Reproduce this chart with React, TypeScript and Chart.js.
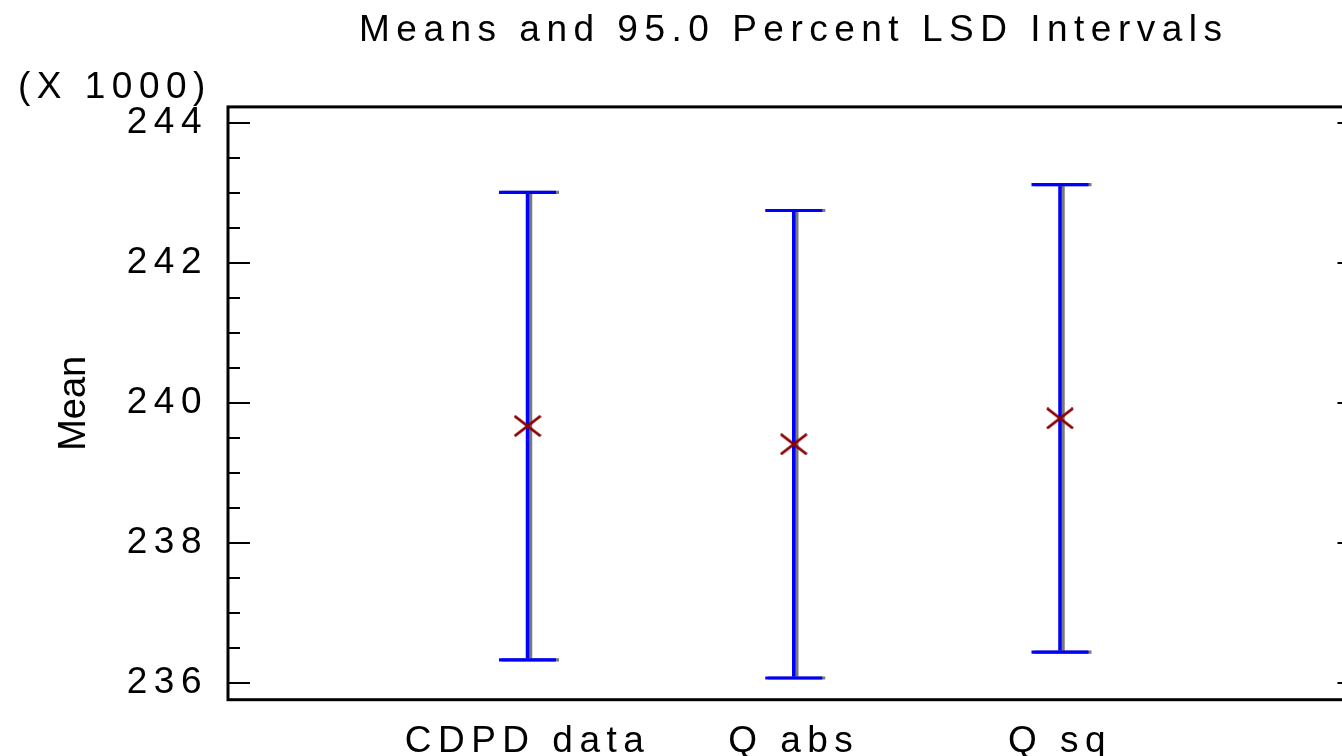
import React, { useEffect, useRef } from 'react';
import { Chart, registerables } from 'chart.js';

Chart.register(...registerables);

// Groups on the horizontal axis
const CATEGORIES = ['CDPD data', 'Q abs', 'Q sq'];
// Group means and their 95% LSD interval limits (raw units)
const MEANS = [239670, 239410, 239780];
const LOWER = [236330, 236070, 236440];
const UPPER = [243010, 242750, 243120];

// Vertical axis: labelled every 2000, minor marks every 500
const Y_MIN = 235760;
const Y_MAX = 244230;
const Y_STEP = 500;
const Y_LABEL_STEP = 2000;
const Y_SCALE_FACTOR = 1000;

// Horizontal extent around the three group positions
const X_MIN = -1.125;
const X_MAX = 3.125;

const TITLE = 'Means and 95.0 Percent LSD Intervals';
const Y_TITLE = 'Mean';
const Y_FACTOR_LABEL = '(X 1000)';

const FONT_FAMILY = '"Liberation Sans", Arial, Helvetica, sans-serif';
const FONT_SIZE = 37;
const SPACING = '6.5px';
const BLUE = '#0000ff';
const DARK_RED = '#8b0000';

function makeCrossMarker(): HTMLCanvasElement {
  const c = document.createElement('canvas');
  c.width = 28;
  c.height = 22;
  const g = c.getContext('2d')!;
  g.strokeStyle = DARK_RED;
  g.lineWidth = 2.8;
  g.beginPath();
  g.moveTo(1, 1);
  g.lineTo(27, 21);
  g.moveTo(1, 21);
  g.lineTo(27, 1);
  g.stroke();
  return c;
}

// Gives the interval lines a grey drop shadow to the right
const shadowPlugin = {
  id: 'intervalShadow',
  beforeDatasetDraw(chart: any, args: any) {
    const ds = chart.data.datasets[args.index];
    if (ds && ds.shadowed) {
      const ctx = chart.ctx;
      ctx.save();
      ctx.shadowColor = '#7a7a7a';
      ctx.shadowOffsetX = 3;
      ctx.shadowOffsetY = 0;
      ctx.shadowBlur = 0;
    }
  },
  afterDatasetDraw(chart: any, args: any) {
    const ds = chart.data.datasets[args.index];
    if (ds && ds.shadowed) chart.ctx.restore();
  },
};

// Letter spacing for library-drawn text, plus frame, inward ticks and extra labels
const framePlugin = {
  id: 'frameAndLabels',
  beforeDraw(chart: any) {
    (chart.ctx as any).letterSpacing = SPACING;
  },
  afterDraw(chart: any) {
    const ctx = chart.ctx;
    const { left, right, top, bottom } = chart.chartArea;
    const yScale = chart.scales.y;

    ctx.save();
    ctx.strokeStyle = '#000';
    ctx.lineWidth = 3;
    ctx.strokeRect(left, top, right - left, bottom - top);

    ctx.lineWidth = 2;
    ctx.beginPath();
    yScale.ticks.forEach((t: any) => {
      const y = yScale.getPixelForValue(t.value);
      const len = t.value % Y_LABEL_STEP === 0 ? 22 : 12;
      ctx.moveTo(left, y);
      ctx.lineTo(left + len, y);
      ctx.moveTo(right, y);
      ctx.lineTo(right - len, y);
    });
    ctx.stroke();

    ctx.fillStyle = '#000';
    (ctx as any).letterSpacing = SPACING;
    ctx.font = `${FONT_SIZE}px ${FONT_FAMILY}`;
    ctx.textAlign = 'left';
    ctx.textBaseline = 'alphabetic';
    ctx.fillText(Y_FACTOR_LABEL, 18, 98);

    (ctx as any).letterSpacing = '0px';
    ctx.font = `38px ${FONT_FAMILY}`;
    ctx.translate(85, (top + bottom) / 2);
    ctx.rotate(-Math.PI / 2);
    ctx.textAlign = 'center';
    ctx.textBaseline = 'alphabetic';
    ctx.fillText(Y_TITLE, 0, 0);
    ctx.restore();

    (ctx as any).letterSpacing = '0px';
  },
};

export default function App() {
  const ref = useRef<HTMLCanvasElement | null>(null);

  useEffect(() => {
    const canvas = ref.current;
    if (!canvas) return;
    const cross = makeCrossMarker();

    const stems = CATEGORIES.map((_, i) => ({
      type: 'line' as const,
      label: `interval ${CATEGORIES[i]}`,
      shadowed: true,
      order: 2,
      data: [
        { x: i, y: LOWER[i] },
        { x: i, y: UPPER[i] },
      ],
      borderColor: BLUE,
      borderWidth: 3.5,
      pointRadius: 0,
      showLine: true,
      fill: false,
    }));

    const caps = {
      type: 'scatter' as const,
      label: 'interval limits',
      shadowed: true,
      order: 1,
      data: CATEGORIES.flatMap((_, i) => [
        { x: i, y: LOWER[i] },
        { x: i, y: UPPER[i] },
      ]),
      pointStyle: 'line',
      pointRadius: 28.5,
      pointBorderWidth: 3.2,
      borderColor: BLUE,
      pointBorderColor: BLUE,
      backgroundColor: BLUE,
    };

    const means = {
      type: 'scatter' as const,
      label: 'means',
      order: 0,
      data: CATEGORIES.map((_, i) => ({ x: i, y: MEANS[i] })),
      pointStyle: cross,
      pointRadius: 12,
    };

    const chart = new Chart(canvas, {
      type: 'scatter',
      data: { datasets: [means, caps, ...stems] as any },
      options: {
        animation: false,
        responsive: false,
        devicePixelRatio: 1,
        events: [],
        layout: { autoPadding: false, padding: { left: 0, right: 20.5, top: 0, bottom: 0 } },
        plugins: {
          legend: { display: false },
          tooltip: { enabled: false },
          title: {
            display: true,
            text: TITLE,
            fullSize: false,
            color: '#000',
            font: { family: FONT_FAMILY, size: FONT_SIZE, weight: 'normal', lineHeight: 1.2 },
            padding: { top: 8.5, bottom: 54 },
          },
        },
        scales: {
          x: {
            type: 'linear',
            min: X_MIN,
            max: X_MAX,
            grid: { display: false },
            border: { display: false },
            afterBuildTicks: (scale: any) => {
              scale.ticks = CATEGORIES.map((_, i) => ({ value: i }));
            },
            afterFit: (scale: any) => {
              scale.height = 56.3;
              scale.paddingLeft = 0;
              scale.paddingRight = 0;
            },
            ticks: {
              autoSkip: false,
              maxRotation: 0,
              minRotation: 0,
              padding: 12,
              color: '#000',
              font: { family: FONT_FAMILY, size: FONT_SIZE },
              callback: (_v: any, index: number) => CATEGORIES[index] ?? '',
            },
          },
          y: {
            type: 'linear',
            min: Y_MIN,
            max: Y_MAX,
            grid: { display: false },
            border: { display: false },
            afterBuildTicks: (scale: any) => {
              const ticks = [];
              for (let v = Math.ceil(Y_MIN / Y_STEP) * Y_STEP; v <= Y_MAX; v += Y_STEP) {
                ticks.push({ value: v });
              }
              scale.ticks = ticks;
            },
            afterFit: (scale: any) => {
              scale.width = 228;
            },
            ticks: {
              autoSkip: false,
              padding: 12,
              color: '#000',
              font: { family: FONT_FAMILY, size: FONT_SIZE },
              callback: (v: any) =>
                Number(v) % Y_LABEL_STEP === 0 ? String(Number(v) / Y_SCALE_FACTOR) : '',
            },
          },
        },
      },
      plugins: [shadowPlugin, framePlugin],
    } as any);

    return () => chart.destroy();
  }, []);

  return (
    <div
      style={{
        position: 'fixed',
        left: 0,
        top: 0,
        width: 1342,
        height: 756,
        overflow: 'hidden',
        background: '#fff',
      }}
    >
      <canvas ref={ref} width={1380} height={756} style={{ display: 'block', width: 1380, height: 756 }} />
    </div>
  );
}
